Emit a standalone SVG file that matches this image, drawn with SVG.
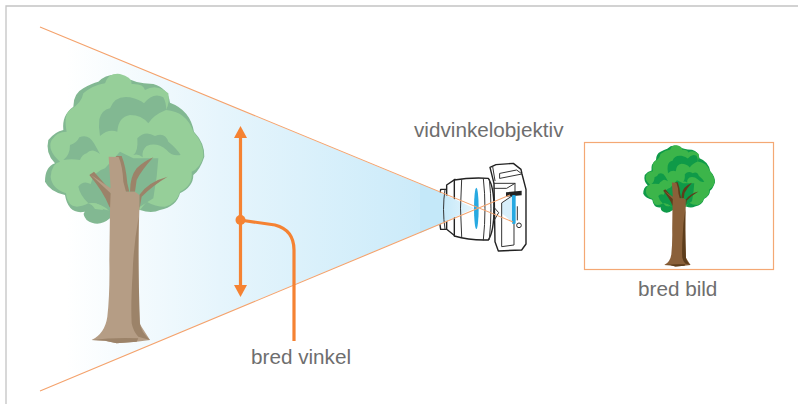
<svg xmlns="http://www.w3.org/2000/svg" xmlns:xlink="http://www.w3.org/1999/xlink" width="798" height="404" viewBox="0 0 798 404">
<style>
.lbl{font-family:"Liberation Sans",Arial,sans-serif;font-size:20.700px;fill:#6e6e6e}
.thin{fill:none;stroke:#f4a26c;stroke-width:1.1}
.or{fill:none;stroke:#f58232;stroke-width:3.2}
.ora{fill:#f58232}
.cam{fill:none;stroke:#333;stroke-width:3;stroke-linejoin:round;stroke-linecap:round}
.body{fill:#fff;stroke:#222;stroke-width:4.200;stroke-linejoin:round}
.lens{fill:#27a9e1}
.big{--a:#82b892;--b:#96cf99;--c:#b59d85;--d:#9c8369}
.small{--a:#0f9a48;--b:#3cb54a;--c:#8a6039;--d:#5d3d1b}
.ca{fill:var(--a)}.cb{fill:var(--b)}.cc{fill:var(--c)}.cd{fill:var(--d)}
</style>
<defs>
<linearGradient id="cone" gradientUnits="userSpaceOnUse" x1="40" y1="0" x2="478" y2="0">
<stop offset="0" stop-color="#fff"/><stop offset=".06" stop-color="#fff"/><stop offset=".41" stop-color="#e6f5fc"/><stop offset="1" stop-color="#c4e8f9"/>
</linearGradient>
<linearGradient id="inlens" gradientUnits="userSpaceOnUse" x1="0" y1="0" x2="163" y2="0">
<stop offset="0" stop-color="#c4e8f9"/><stop offset=".4" stop-color="#c4e8f9"/><stop offset="1" stop-color="#e6f5fc"/>
</linearGradient>
<g id="tree">
<path class="ca" d="M235 65Q265 35 310 48Q340 70 400 72Q445 85 450 128Q510 150 522 215Q555 250 553 290Q540 330 520 345Q520 380 480 400Q470 440 420 450Q395 462 360 450L270 475Q235 505 200 480Q185 460 195 455Q145 465 135 405Q90 395 75 365Q75 320 105 310Q75 280 85 240Q105 215 130 210Q125 165 160 140Q160 100 190 85Q215 70 235 65Z"/>
<path class="cb" d="M255 70Q265 38 300 42Q335 50 335 72Q370 70 375 90Q410 70 445 100Q450 130 438 150Q500 155 520 215Q552 250 550 290Q540 325 515 335Q520 375 480 395Q470 430 435 440Q405 440 380 425L360 450L270 452Q230 445 205 430Q145 460 138 400Q95 385 92 350Q95 310 120 305Q80 270 95 240Q110 215 140 215Q130 165 150 150Q185 130 190 100Q220 75 255 70Z"/>
<path class="ca" d="M238 178Q245 150 270 145Q285 105 330 112Q360 120 372 130Q400 95 430 112Q440 130 438 150Q400 165 385 190Q365 165 330 165Q295 170 292 215Q265 205 240 228Q235 200 238 178Z"/>
<path class="ca" d="M130 300Q150 285 150 255Q170 250 178 232Q205 220 222 250L240 282Q215 262 200 280Q185 285 180 300Q155 295 130 300Z"/>
<path class="ca" d="M340 285Q355 275 352 235Q375 210 405 228Q435 215 445 245Q470 265 482 285Q455 290 440 270Q410 245 380 258Q365 270 368 292Q355 280 340 285Z"/>
<path class="ca" d="M205 430Q180 405 175 380Q190 360 212 372Q220 335 255 325L300 275L340 295L415 295L410 350L400 415L360 440L270 455Q240 425 205 430Z"/>
<path class="cb" d="M212 430Q235 425 250 450L225 447Z"/>
<path class="cd" d="M208 345L222 335L272 392L277 450L268 440Q250 395 208 345ZM288 288H305Q318 320 322 370L328 395H310ZM330 395Q330 350 350 325Q370 305 400 292Q365 330 350 360L345 395ZM358 405Q385 365 443 350Q400 375 365 410L358 450Z"/>
<path class="cc" d="M266 290L296 291Q308 320 310 365L318 395H345L358 405L358 450Q353 600 358 790L390 840L350 845L290 850L255 842L215 840Q255 820 262 770Q270 700 268 600L270 450L272 400L212 344L272 385Z"/>
<path class="cd" d="M356 470Q340 560 338 640Q332 730 335 790Q340 815 355 830L390 840Q362 815 360 790Q353 600 356 470ZM215 840Q280 832 355 835L350 845L290 850L255 842Z"/>
</g>
</defs>

<path id="frame" d="M6 404V6H798" fill="none" stroke="#c4c4c4" stroke-width="1.3"/>
<polygon id="view-cone" points="40,27 478,208 40,391" fill="url(#cone)"/>

<g id="tree-large" class="big"><use xlink:href="#tree" href="#tree" transform="translate(20 60) scale(.3333)"/></g>

<g id="camera" transform="translate(420 150) scale(.3333)">
<path class="body" d="M62 118H80V238H62Q50 178 62 118Z"/>
<path class="body" d="M80 105L105 88V258L80 238Z"/>
<path class="body" d="M103 90Q150 82 205 85Q222 110 222 175Q222 245 205 270Q150 272 103 258Z"/>
<path class="body" d="M210 52L228 44L280 40L303 58L306 72L318 118V282L305 300L235 303L225 275L222 100Z"/>
<polygon points="0,100 163,175 0,250" fill="url(#inlens)"/>
<path d="M245 160L282 135V220L245 190Z" fill="#d8effb"/>
<path class="cam" d="M75 118Q66 178 75 238M125 88Q118 175 125 260M190 85Q200 175 190 270M208 88Q218 175 208 268M222 100H285M222 115H260L285 100V125M240 70L290 60L306 72L240 85ZM218 50L225 92M245 160V290L282 285V135ZM222 172L236 188L222 212ZM292 170V210"/>
<path d="M258 127L305 122V136L258 140Z" fill="#222"/>
<circle cx="297" cy="226" r="7" fill="#fff" stroke="#2b2b2b" stroke-width="3"/>
<ellipse class="lens" cx="169" cy="175" rx="7" ry="62"/>
<rect class="lens" x="276" y="135" width="11" height="87" rx="4"/>
</g>

<g id="connectors">
<path class="thin" d="M40 27L513 222M40 391L510 195"/>
<path class="or" d="M240.500 135V288"/>
<polygon class="ora" points="240.500,126 247,138 234,138"/>
<polygon class="ora" points="240.500,297 234,285 247,285"/>
<circle class="ora" cx="240.500" cy="220" r="5"/>
<path class="or" d="M240 220L275 225Q294 230 294 250V341"/>
</g>

<g id="label-wide-angle"><text class="lbl" x="251" y="364">bred vinkel</text></g>
<g id="label-lens"><text class="lbl" x="414" y="137">vidvinkelobjektiv</text></g>
<g id="wide-image">
<rect x="584.500" y="142.500" width="189" height="127" fill="#fff" stroke="#f4a874" stroke-width="1.2"/>
<g class="small"><use xlink:href="#tree" href="#tree" transform="translate(632 139) scale(.15)"/></g>
</g>
<g id="label-image"><text class="lbl" x="638" y="296">bred bild</text></g>
</svg>
